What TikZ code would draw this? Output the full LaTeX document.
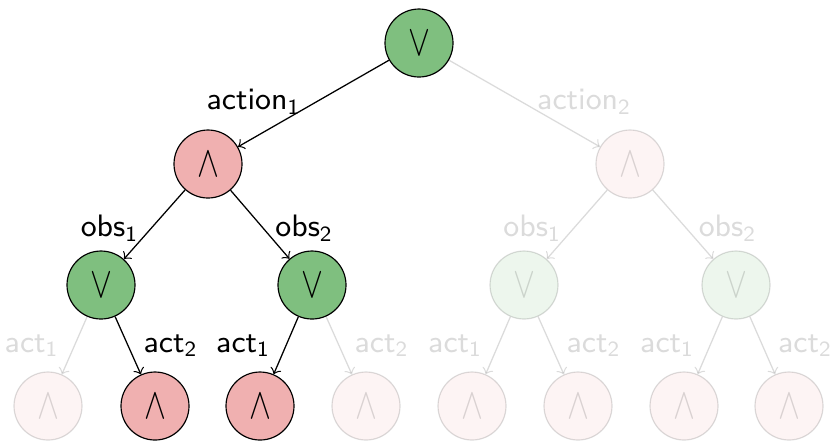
\documentclass[tikz,border=0pt]{standalone}
\usepackage{graphicx}
\definecolor{orfill}{RGB}{127,191,127}
\definecolor{andfill}{RGB}{240,176,176}
\newcommand{\orsym}{\scalebox{0.9}[1.2]{$\vee$}}
\newcommand{\andsym}{\scalebox{0.9}[1.2]{$\wedge$}}
\begin{document}
\begin{tikzpicture}[x=0.3pt,y=-0.3pt,
  font=\sffamily\fontsize{9.3}{11}\selectfont,
  gate/.style={circle, draw, line width=0.35pt, minimum size=20.4pt, inner sep=0pt,
    font=\fontsize{11}{11}\selectfont},
  orgate/.style={gate, fill=orfill},
  andgate/.style={gate, fill=andfill},
  edge/.style={->, line width=0.38pt},
  lab/.style={inner sep=0pt},
  faded/.style={opacity=0.14}]
\useasboundingbox (0,0) rectangle (830,441);

% root
\node[orgate] (r) at (419,43) {\orsym};

% level 1
\node[andgate] (a1) at (208,164) {\andsym};
\begin{scope}[faded]
\node[andgate] (a2) at (630,164) {\andsym};
\end{scope}

% level 2
\node[orgate] (o1) at (101,285) {\orsym};
\node[orgate] (o2) at (312,285) {\orsym};
\begin{scope}[faded]
\node[orgate] (o3) at (524,285) {\orsym};
\node[orgate] (o4) at (736,285) {\orsym};
\end{scope}

% level 3
\node[andgate] (l2) at (155,406) {\andsym};
\node[andgate] (l3) at (260,406) {\andsym};
\begin{scope}[faded]
\node[andgate] (l1) at (48,406) {\andsym};
\node[andgate] (l4) at (366,406) {\andsym};
\node[andgate] (l5) at (472,406) {\andsym};
\node[andgate] (l6) at (578,406) {\andsym};
\node[andgate] (l7) at (684,406) {\andsym};
\node[andgate] (l8) at (789,406) {\andsym};
\end{scope}

% active branch
\draw[edge] (r) -- node[lab, pos=0.58, anchor=south east, yshift=-1.3pt] {action\textsubscript{1}} (a1);
\draw[edge] (a1) -- node[lab, pos=0.75, anchor=south east] {obs\textsubscript{1}} (o1);
\draw[edge] (a1) -- node[lab, pos=0.75, anchor=south west] {obs\textsubscript{2}} (o2);
\draw[edge] (o1) -- node[midway, right=4.5pt, inner sep=0pt] {act\textsubscript{2}} (l2);
\draw[edge] (o2) -- node[midway, left=4.5pt, inner sep=0pt] {act\textsubscript{1}} (l3);

% pruned branches
\begin{scope}[faded]
\draw[edge] (r) -- node[lab, pos=0.58, anchor=south west, yshift=-1.3pt] {action\textsubscript{2}} (a2);
\draw[edge] (a2) -- node[lab, pos=0.75, anchor=south east] {obs\textsubscript{1}} (o3);
\draw[edge] (a2) -- node[lab, pos=0.75, anchor=south west] {obs\textsubscript{2}} (o4);
\draw[edge] (o1) -- node[midway, left=4.5pt, inner sep=0pt] {act\textsubscript{1}} (l1);
\draw[edge] (o2) -- node[midway, right=4.5pt, inner sep=0pt] {act\textsubscript{2}} (l4);
\draw[edge] (o3) -- node[midway, left=4.5pt, inner sep=0pt] {act\textsubscript{1}} (l5);
\draw[edge] (o3) -- node[midway, right=4.5pt, inner sep=0pt] {act\textsubscript{2}} (l6);
\draw[edge] (o4) -- node[midway, left=4.5pt, inner sep=0pt] {act\textsubscript{1}} (l7);
\draw[edge] (o4) -- node[midway, right=4.5pt, inner sep=0pt] {act\textsubscript{2}} (l8);
\end{scope}
\end{tikzpicture}
\end{document}
